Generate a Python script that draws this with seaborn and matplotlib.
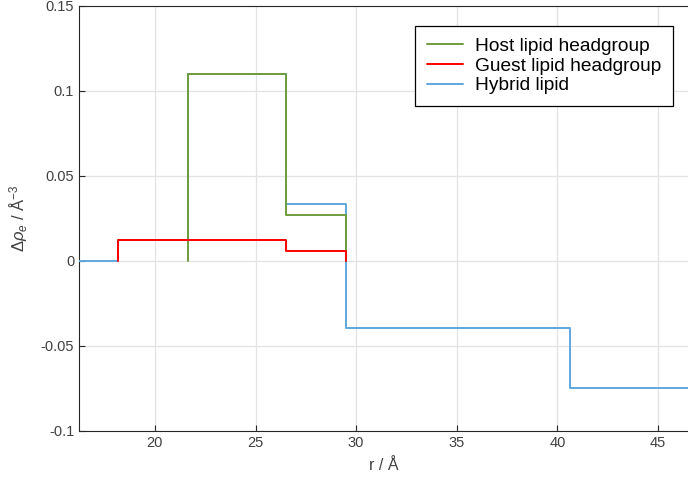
import numpy as np
import pandas as pd
import matplotlib
matplotlib.use("Agg")
import matplotlib.pyplot as plt
import seaborn as sns
from matplotlib.lines import Line2D

# ---- data ----
series_names = ["Host lipid headgroup", "Guest lipid headgroup", "Hybrid lipid"]

host_edges = [21.67, 26.51, 29.48]
host_levels = [0.110, 0.027]

guest_edges = [18.17, 26.51, 29.50]
guest_levels = [0.0122, 0.0060]

hybrid_edges = [16.23, 18.17, 21.65, 26.51, 29.50, 40.64, 46.6]
hybrid_levels = [0.0, 0.0122, 0.110, 0.0334, -0.0394, -0.0751]

x_ticks = [20, 25, 30, 35, 40, 45]
y_ticks = [-0.1, -0.05, 0, 0.05, 0.1, 0.15]
y_tick_labels = ["-0.1", "-0.05", "0", "0.05", "0.1", "0.15"]

colors = {"Host lipid headgroup": "#6f9c3c",
          "Guest lipid headgroup": "#ff0000",
          "Hybrid lipid": "#5fa8de"}


def step_path(edges, levels, start, end):
    xs, ys = [edges[0]], [start]
    for i, lv in enumerate(levels):
        xs += [edges[i], edges[i + 1]]
        ys += [lv, lv]
    xs.append(edges[-1])
    ys.append(end)
    return xs, ys


sns.set_theme(style="white")
plt.rcParams["font.family"] = ["Liberation Sans", "DejaVu Sans"]
plt.rcParams["mathtext.fontset"] = "custom"
plt.rcParams["mathtext.rm"] = "Liberation Sans"
plt.rcParams["mathtext.it"] = "Liberation Sans:italic"

fig = plt.figure(figsize=(6.88, 4.79), dpi=100)
ax = fig.add_axes([79 / 688, 1 - 430.7 / 479, 1 - 79 / 688, (430.7 - 5.7) / 479])

hx, hy = step_path(hybrid_edges, hybrid_levels, hybrid_levels[0], hybrid_levels[-1])
gx, gy = step_path(host_edges, host_levels, 0.0, 0.0)
rx, ry = step_path(guest_edges, guest_levels, 0.0, 0.0)

sns.lineplot(x=hx, y=hy, sort=False, estimator=None, ax=ax,
             color=colors["Hybrid lipid"], lw=1.4, zorder=3)
sns.lineplot(x=gx, y=gy, sort=False, estimator=None, ax=ax,
             color=colors["Host lipid headgroup"], lw=1.4, zorder=4)
sns.lineplot(x=rx, y=ry, sort=False, estimator=None, ax=ax,
             color=colors["Guest lipid headgroup"], lw=1.4, zorder=5)

ax.set_xlim(16.23, 46.49)
ax.set_ylim(-0.1, 0.15)
ax.set_xticks(x_ticks)
ax.set_yticks(y_ticks)
ax.set_yticklabels(y_tick_labels)
ax.grid(True, color="#e3e3e3", lw=0.9)
ax.set_axisbelow(True)
ax.tick_params(direction="in", length=4, width=0.8, colors="#262626",
               labelcolor="#404040", labelsize=10.5, bottom=True, left=True)
for side in ["left", "bottom", "top"]:
    ax.spines[side].set_color("#262626")
    ax.spines[side].set_linewidth(0.8)
ax.spines["right"].set_visible(False)

ax.set_xlabel("r / Å", fontsize=11.5, color="#404040", labelpad=6)
ax.set_ylabel(r"$\Delta\rho_e$ / Å$^{-3}$", fontsize=12, color="#404040", labelpad=8)

handles = [Line2D([], [], color=colors[n], lw=1.4) for n in series_names]
leg = ax.legend(handles, series_names, loc="upper right",
                bbox_to_anchor=(672.7 / 688, 1 - 26 / 479),
                bbox_transform=fig.transFigure, borderaxespad=0,
                fontsize=13.8, frameon=True, fancybox=False,
                handlelength=1.9, handletextpad=0.6, labelspacing=0.12,
                borderpad=0.6)
leg.get_frame().set_edgecolor("#000000")
leg.get_frame().set_linewidth(0.9)
leg.get_frame().set_alpha(1)
for t in leg.get_texts():
    t.set_color("#000000")

fig.savefig("out.png", dpi=100)
